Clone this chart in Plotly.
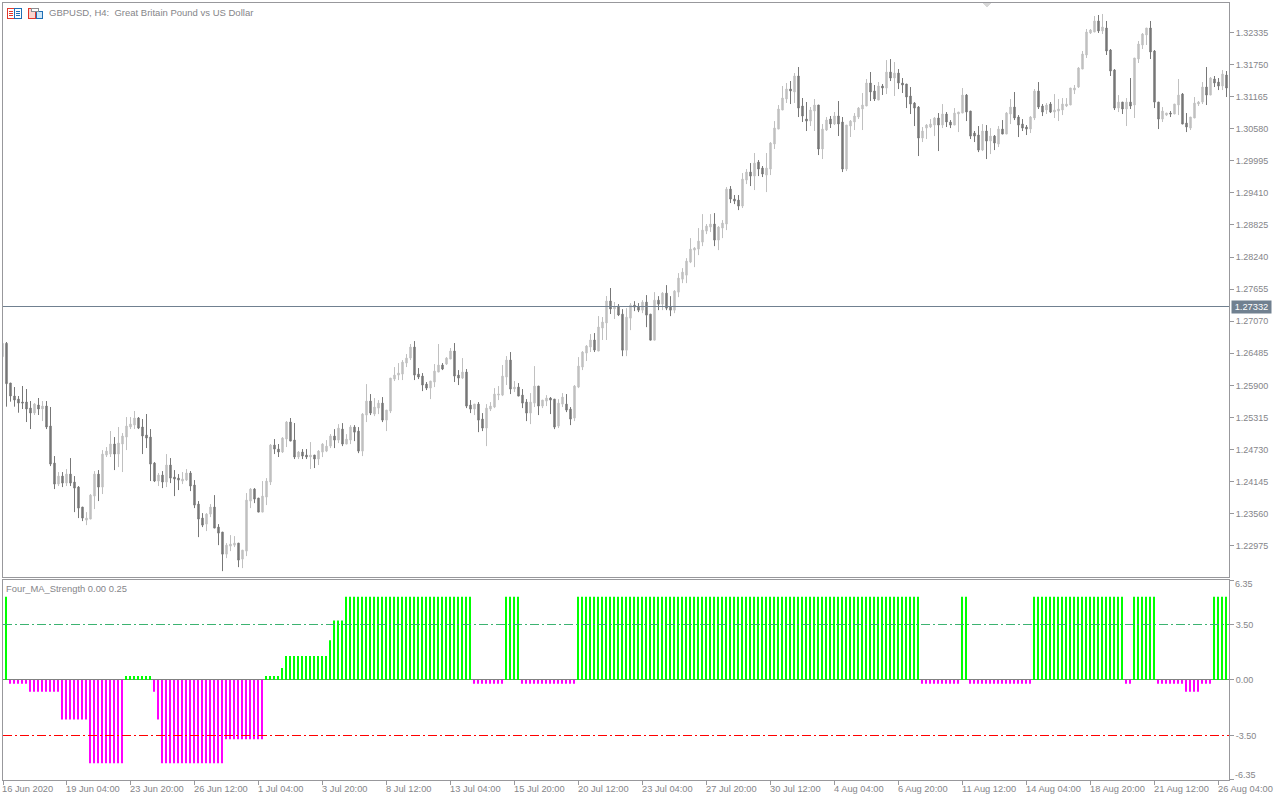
import plotly.graph_objects as go
import numpy as np

W, H = 1280, 800
instrument_title = "GBPUSD, H4:\u00a0\u00a0Great Britain Pound vs US Dollar"
indicator_title = "Four_MA_Strength 0.00 0.25"

# prices in points (1 point = 0.00001); first candle is the clipped one at the left edge
high_pts = [
126667,126691,125943,125870,125706,125889,125834,125615,125578,125670,125615,125615,125506,124612,124320,124320,124375,124575,124247,124065,
123682,123590,123919,124338,124356,124721,124776,125068,124958,125141,125031,125323,125323,125433,125323,125287,125378,125104,124502,124302,
124338,124648,124575,124356,124283,124320,124375,124338,124174,123791,123572,123572,123736,123900,123371,123226,123025,123171,123153,123025,
122897,123937,124028,124028,123846,124156,124210,124831,124922,124831,124958,125250,125305,125214,124703,124739,124739,124867,124630,124721,
124848,124903,125012,125103,125194,125213,125012,125176,125176,125140,125395,125924,125742,125669,125632,125687,125450,126033,126234,126307,
126362,126471,126654,126708,126216,126125,125961,125979,126289,126654,126307,126416,126581,126672,126179,126398,126198,125632,125559,125596,
125395,125559,125596,125851,125888,126271,126435,126508,125979,125942,125833,125650,125760,126252,125888,125632,125723,125687,125650,125650,
125760,125742,125505,125906,126416,126526,126635,126836,126854,127164,127146,127529,127675,127420,127383,
127290,127308,127400,127436,127400,127454,127546,127199,127600,127527,127600,127728,127527,127637,127947,128038,128220,128585,128421,128768,
129023,128841,129023,129041,128804,128914,129516,129534,129370,129370,129771,129844,129953,130136,130008,129899,130136,130336,130719,131011,
131358,131412,131449,131595,131704,131139,131066,130975,131121,131011,130665,130792,130811,130884,131084,130792,130646,130738,130865,130975,
131230,131485,131613,131376,131431,131394,131831,131849,131795,131667,
131503,131394,131339,131065,130993,130610,130664,130755,130792,130865,131029,130883,130737,130956,130883,131321,131211,130901,130537,130628,
130664,130646,130591,130464,130628,130737,130883,131120,131248,130828,130755,130646,130810,131303,131430,131029,131047,131065,131211,131120,
131138,131138,131321,131376,131704,131996,132397,132397,132634,132652,132671,132543,132032,131667,131193,131065,131138,131503,131868,132178,
132324,132415,132543,132014,131065,130974,130865,130901,131029,131485,131230,130865,130792,131157,131084,131430,131704,131522,131540,131503,
131649,131631]
body_top_pts = [
126667,126667,125943,125706,125651,125597,125597,125487,125560,125542,125524,125524,125159,124484,124247,124247,124283,124283,124138,124046,
123682,123481,123900,124283,124283,124648,124703,124831,124831,124849,124977,125159,125195,125305,125305,125141,124995,124958,124484,124265,
124265,124448,124448,124229,124210,124192,124302,124302,124083,123736,123481,123554,123682,123682,123317,123226,122988,123007,123025,123025,
122897,123809,124010,124010,123846,123882,124156,124812,124812,124739,124940,125232,125232,124904,124685,124685,124630,124630,124630,124703,
124830,124793,124976,124976,125122,125103,124921,125140,125140,125067,125377,125614,125614,125505,125577,125577,125450,126033,126088,126125,
126325,126398,126599,126599,126106,126070,125924,125979,126161,126271,126271,126398,126526,126526,126088,126143,126143,125541,125559,125559,
125286,125486,125523,125742,125742,126070,126362,126362,125869,125869,125723,125596,125596,125888,125888,125632,125669,125669,125650,125577,
125687,125559,125468,125888,126252,126508,126617,126727,126727,126964,127055,127438,127438,127329,127347,
127199,127144,127363,127363,127327,127418,127418,127199,127454,127454,127582,127582,127327,127619,127856,127965,128166,128385,128403,128531,
128731,128804,128841,128841,128786,128859,129479,129479,129297,129278,129661,129789,129789,129953,129971,129862,129862,130318,130592,130938,
131139,131303,131303,131540,131540,130993,130756,130920,131011,131011,130573,130738,130756,130811,130811,130701,130646,130719,130811,130956,
131011,131412,131412,131267,131358,131358,131612,131612,131594,131594,
131412,131394,131175,131047,130974,130537,130646,130664,130774,130774,130847,130847,130701,130865,130883,131193,131193,130901,130500,130464,
130537,130537,130445,130445,130573,130573,130865,130974,130974,130792,130664,130610,130792,131266,131266,130993,131011,131029,130920,130938,
131029,131029,131321,131321,131686,131941,132342,132379,132543,132543,132433,132415,132014,131649,131065,131065,131065,131065,131868,132123,
132306,132415,132415,131996,131065,130901,130865,130865,131029,131193,131211,130682,130792,131047,131065,131339,131339,131503,131485,131430,
131576,131558]
body_bot_pts = [
126424,125931,125706,125633,125578,125578,125469,125396,125396,125469,125469,125141,124466,124101,124101,124119,124119,124119,124028,123663,
123481,123444,123463,123882,124046,124046,124630,124648,124648,124648,124831,124958,125141,125177,125122,124977,124940,124466,124156,124156,
124138,124138,124210,124192,124174,124156,124174,124065,123718,123463,123353,123371,123554,123299,123207,122824,122824,122970,122988,122715,
122733,122879,123791,123827,123590,123590,123864,124138,124739,124685,124685,124922,124885,124594,124594,124612,124594,124594,124557,124557,
124684,124702,124793,124903,124903,124830,124830,124903,125048,124702,124702,125359,125395,125377,125486,125267,125267,125432,126015,126088,
126106,126307,126398,126088,126052,125906,125851,125851,125961,126143,126198,126289,126380,126070,126033,126033,125523,125468,125468,125267,
125122,125122,125468,125505,125723,125723,126052,125833,125833,125705,125577,125395,125395,125577,125523,125523,125614,125632,125140,125158,
125559,125450,125286,125304,125869,126234,126489,126599,126544,126526,126945,127037,127292,127292,127183,
126542,126542,127126,127327,127272,127272,127181,126725,126725,127381,127381,127308,127272,127272,127600,127837,127910,128148,128366,128385,
128512,128713,128786,128549,128549,128768,128841,129297,129260,129169,129169,129643,129716,129716,129844,129753,129734,129844,130300,130573,
130920,131121,131267,131248,130956,130811,130719,130719,130902,130209,130209,130555,130665,130665,130665,129844,129844,130628,130701,130792,
130938,130993,131248,131121,131102,131321,131320,131503,131503,131412,
131376,131157,131029,130956,130409,130409,130591,130610,130646,130646,130646,130701,130646,130646,130847,130865,130883,130445,130445,130190,
130190,130354,130354,130318,130299,130482,130482,130847,130774,130646,130591,130573,130573,130774,130974,130883,130920,130883,130883,130901,
130920,130993,131011,131284,131339,131667,131923,132324,132342,132361,132361,131996,131631,130956,130956,130938,130938,130993,131011,131850,
132105,132288,131978,131065,130755,130755,130828,130847,130847,131011,130664,130610,130591,130774,131029,131065,131193,131193,131412,131357,
131357,131321]
low_pts = [
126424,125512,125603,125512,125402,125469,125232,125104,125360,125360,125250,125104,124429,124010,124065,124046,124065,124065,123590,123481,
123426,123353,123463,123645,123791,123919,124594,124594,124356,124411,124320,124721,125104,125104,125104,124648,124758,124156,124138,124065,
124028,124046,124119,123882,123992,124101,124156,123973,123663,123134,123317,123244,123499,123299,122988,122514,122751,122879,122952,122587,
122569,122788,123663,123754,123590,123590,123718,124083,124648,124594,124667,124776,124885,124557,124557,124557,124557,124375,124393,124448,
124593,124684,124757,124757,124848,124793,124830,124830,124884,124665,124611,125231,125359,125340,125377,125231,125067,125395,125979,125997,
125997,126234,126362,125997,126015,125796,125815,125650,125869,126143,126179,126271,126380,125961,125906,126015,125486,125395,125359,125048,
125067,124793,125432,125486,125632,125705,125906,125742,125778,125705,125486,125249,125194,125505,125359,125486,125523,125377,125103,125122,
125505,125413,125176,125249,125851,126179,126344,126508,126508,126526,126727,126727,127201,127110,127164,
126433,126433,126907,127254,127236,127217,126962,126725,126725,127272,127272,127272,127163,127217,127509,127764,127764,128129,128056,128275,
128439,128658,128695,128439,128366,128585,128731,129224,129205,129096,129133,129570,129534,129461,129716,129698,129424,129734,130209,130573,
130920,131048,131029,131048,130792,130701,130537,130628,130537,130099,130026,130537,130592,130646,130446,129789,129807,130428,130555,130756,
130555,130993,131084,131084,131102,131194,131211,131448,131175,131302,
131230,130956,130847,130628,130081,130336,130391,130591,130445,130172,130591,130610,130591,130646,130518,130865,130719,130391,130336,130153,
130172,130026,130117,130190,130245,130482,130482,130664,130737,130427,130537,130464,130500,130737,130938,130810,130847,130865,130774,130719,
130828,130974,131011,131211,131321,131667,131868,132306,132342,132324,132306,131923,131540,130920,130883,130847,130628,130938,130774,131777,
132032,132105,131850,130956,130573,130701,130810,130792,130847,130828,130664,130518,130555,130774,130993,131029,131011,131193,131339,131284,
131284,131157]
# candle direction: L = light (rising), D = dark (falling)
candle_dir = ("L" "DDDDDDDLDL" "DDDLDLDDDD" "LLLDLLLDLL" "LLLDDDDDLD" "LDDDLLDDDD" "LLDDDLLLDL" "LLDDLLLDDL"
 "LDDLDDLDLL" "LLDLDLLDDL" "LDLLDLLLLL" "LLDDDDLLLD" "LLDDLDDLDD" "LLLLLLDLDD" "DLLDLLDDLL" "DDLLLLLDLL"
 "LDLDDLLDDL" "DDLDLDDLLL" "LLLLLLLDLL" "LDDDLLDLDD" "LLLLLLDLDD" "DLLDLLDLDD" "LLLLLLDDLD" "LDLDDDDDDL"
 "LLLDLDDLLL" "DDDDLDLDLD" "LLDDDDLLDD" "LDLLLLLLLL" "LLLDLDDDLD" "LDLLLLDDDL" "LDLLDDLLLL" "DLDDLD")

# Four_MA_Strength histogram: value of each run and how many bars it lasts
strength_run_values = [5.25,-0.25,-0.75,-2.5,-5.25,0.25,-0.75,-2.5,-5.25,-3.75,0.25,0.75,1.5,2.5,3.75,5.25,
                       -0.25,5.25,-0.25,5.25,-0.25,5.25,-0.25,5.25,-0.25,5.25,-0.25,-0.75,-0.25,5.25]
strength_run_bars = [1,5,8,7,9,7,1,1,16,10,4,1,11,1,3,32,8,4,14,86,10,2,16,23,2,6,7,4,3,4]

price_ticks = [1.32335,1.31750,1.31165,1.30580,1.29995,1.29410,1.28825,1.28240,1.27655,1.27070,1.26485,
               1.25900,1.25315,1.24730,1.24145,1.23560,1.22975]
bid_price = 1.27332
strength_levels = [3.5, -3.5]
time_labels = ["16 Jun 2020","19 Jun 04:00","23 Jun 20:00","26 Jun 12:00","1 Jul 04:00","3 Jul 20:00","8 Jul 12:00",
               "13 Jul 04:00","15 Jul 20:00","20 Jul 12:00","23 Jul 04:00","27 Jul 20:00","30 Jul 12:00","4 Aug 04:00",
               "6 Aug 20:00","11 Aug 12:00","14 Aug 04:00","18 Aug 20:00","21 Aug 12:00","26 Aug 04:00"]

assert len(high_pts) == len(body_top_pts) == len(body_bot_pts) == len(low_pts) == len(candle_dir) == 307, (
    len(high_pts), len(body_top_pts), len(body_bot_pts), len(low_pts), len(candle_dir))

DARK, LIGHT = "#777777", "#c0c0c0"
BORDER, TEXT = "#98989c", "#858589"
FONT = "Liberation Sans"

top = np.array(body_top_pts) / 1e5
bot = np.array(body_bot_pts) / 1e5
is_up = np.array([c == "L" for c in candle_dir])
opens = np.where(is_up, bot, top)
closes = np.where(is_up, top, bot)
highs = np.maximum(np.array(high_pts) / 1e5, top)
lows = np.minimum(np.array(low_pts) / 1e5, bot)
xs = np.arange(-1, 306)

strength = np.repeat(strength_run_values, strength_run_bars)
sx = np.arange(len(strength))

def fy(px):
    return 1 - px / H
def fx(px):
    return px / W

fig = go.Figure()
fig.add_trace(go.Candlestick(
    x=xs, open=opens, high=highs, low=lows, close=closes, xaxis="x", yaxis="y", whiskerwidth=0,
    increasing=dict(line=dict(color=LIGHT, width=1), fillcolor=LIGHT),
    decreasing=dict(line=dict(color=DARK, width=1), fillcolor=DARK),
    showlegend=False, hoverinfo="skip"))
pos = strength > 0
fig.add_trace(go.Bar(x=sx[pos], y=strength[pos], xaxis="x2", yaxis="y2", width=0.5, offset=-0.375,
                     marker=dict(color="#00ff00", line=dict(width=0)), showlegend=False, hoverinfo="skip"))
fig.add_trace(go.Bar(x=sx[~pos], y=strength[~pos], xaxis="x2", yaxis="y2", width=0.5, offset=-0.375,
                     marker=dict(color="#ff00ff", line=dict(width=0)), showlegend=False, hoverinfo="skip"))

axis_common = dict(showgrid=False, zeroline=False, showline=True, linecolor=BORDER, linewidth=1, mirror=True)
xrange = [-0.875, 305.625]
tick_idx = [-1 + 16 * k for k in range(len(time_labels))]
axis_tick_idx = [xrange[0]] + tick_idx[1:]

shapes = [
    dict(type="line", xref="x2", yref="y2", x0=xrange[0], x1=xrange[1], y0=0, y1=0,
         line=dict(color="#808080", width=1), layer="below"),
    dict(type="line", xref="x", yref="y", x0=xrange[0], x1=xrange[1], y0=bid_price, y1=bid_price,
         line=dict(color="#708090", width=1)),
    dict(type="line", xref="x2", yref="y2", x0=xrange[0], x1=xrange[1], y0=strength_levels[0], y1=strength_levels[0],
         line=dict(color="#3cb371", width=1, dash="9px,3px,2px,3px")),
    dict(type="line", xref="x2", yref="y2", x0=xrange[0], x1=xrange[1], y0=strength_levels[1], y1=strength_levels[1],
         line=dict(color="#ff0000", width=1, dash="9px,3px,2px,3px")),
    # shift marker at top of the chart
    dict(type="path", xref="paper", yref="paper", line=dict(width=0), fillcolor="#d8d8d8",
         path=f"M{fx(982.5)},{fy(3)} L{fx(991.5)},{fy(3)} L{fx(987)},{fy(8)} Z"),
]
# toolbar icons next to the title
def rect(x0, y0, x1, y1, color, fill="white"):
    return dict(type="rect", xref="paper", yref="paper", x0=fx(x0), x1=fx(x1), y0=fy(y0), y1=fy(y1),
                line=dict(color=color, width=1), fillcolor=fill)
def hline(x0, x1, y, color):
    return dict(type="line", xref="paper", yref="paper", x0=fx(x0), x1=fx(x1), y0=fy(y), y1=fy(y), line=dict(color=color, width=1))
shapes += [rect(7.5, 8.5, 14.5, 18.5, "#e2382c"), rect(14.5, 8.5, 21.5, 18.5, "#1f6fb5"),
           hline(9, 13, 11.5, "#e2382c"), hline(9, 13, 13.5, "#e2382c"), hline(9, 13, 15.5, "#e2382c"),
           hline(16, 20, 11.5, "#1f6fb5"), hline(16, 20, 13.5, "#1f6fb5"), hline(16, 20, 15.5, "#1f6fb5"),
           rect(28.5, 8.5, 35.5, 18.5, "#e2382c", "#fbd5cf"), rect(36.5, 11.5, 42.5, 18.5, "#1f6fb5", "#cfe6f7"),
           rect(31.5, 8.5, 38.5, 11.5, "#8c8c90", "white")]

annotations = [
    dict(text=instrument_title, xref="paper", yref="paper", x=fx(47.5), y=fy(13), xanchor="left", yanchor="middle",
         showarrow=False, borderpad=0, font=dict(family=FONT, size=9.5, color=TEXT)),
    dict(text=indicator_title, xref="paper", yref="paper", x=fx(4.5), y=fy(588), xanchor="left", yanchor="middle",
         showarrow=False, borderpad=0, font=dict(family=FONT, size=9.4, color=TEXT)),
    dict(text=f"{bid_price:.5f}", xref="paper", yref="y", x=fx(1231), y=bid_price, xanchor="left", yanchor="middle",
         showarrow=False, bgcolor="#708090", borderpad=1, width=37, height=10, align="center",
         font=dict(family=FONT, size=9.3, color="white")),
    dict(text="6.35", xref="paper", yref="paper", x=fx(1234), y=fy(584), xanchor="left", yanchor="middle",
         showarrow=False, borderpad=0, font=dict(family=FONT, size=9, color=TEXT)),
    dict(text="-6.35", xref="paper", yref="paper", x=fx(1234), y=fy(775), xanchor="left", yanchor="middle",
         showarrow=False, borderpad=0, font=dict(family=FONT, size=9, color=TEXT)),
]
for idx, lab in zip(tick_idx, time_labels):
    # the first label starts left of the plot area, so it is placed on the page rather than on the axis
    place = dict(xref="paper", x=fx(1)) if idx == tick_idx[0] else dict(xref="x2", x=idx - 0.35)
    annotations.append(dict(text=lab, yref="paper", y=fy(788.5), xanchor="left", yanchor="middle",
                            showarrow=False, borderpad=0, font=dict(family=FONT, size=9.3, color=TEXT), **place))

fig.update_layout(
    width=W, height=H, margin=dict(l=0, r=0, t=0, b=0), paper_bgcolor="white", plot_bgcolor="white",
    showlegend=False, barmode="overlay", boxgap=0.5, dragmode=False,
    font=dict(family=FONT, size=9, color=TEXT),
    shapes=shapes, annotations=annotations,
    xaxis=dict(domain=[fx(3), fx(1229)], range=xrange, showticklabels=False, ticks="",
               rangeslider=dict(visible=False), anchor="y", **axis_common),
    yaxis=dict(domain=[fy(577), fy(3)], range=[1.22407, 1.32871], side="right", anchor="x",
               tickmode="array", tickvals=price_ticks, ticktext=[f"{p:.5f}" for p in price_ticks],
               ticks="outside", ticklen=4, tickcolor=BORDER, tickfont=dict(family=FONT, size=9, color=TEXT), **axis_common),
    xaxis2=dict(domain=[fx(3), fx(1229)], range=xrange, anchor="y2", tickmode="array", tickvals=axis_tick_idx,
                ticktext=[""] * len(tick_idx), ticks="outside", ticklen=4, tickcolor=BORDER, **axis_common),
    yaxis2=dict(domain=[fy(780), fy(580)], range=[-6.313, 6.30], side="right", anchor="x2",
                tickmode="array", tickvals=[6.3, 3.5, 0, -3.5, -6.3], ticktext=["", "3.50", "0.00", "-3.50", ""],
                ticks="outside", ticklen=4, tickcolor=BORDER, tickfont=dict(family=FONT, size=9, color=TEXT), **axis_common),
)

crisp_css = ("var s=document.createElement('style');"
             "s.textContent='.shapelayer path{shape-rendering:crispEdges !important}';"
             "document.head.appendChild(s);"
             "document.body.style.margin='0';document.body.style.overflow='hidden';")
fig.write_html("out.html", config=dict(displayModeBar=False), post_script=crisp_css)
